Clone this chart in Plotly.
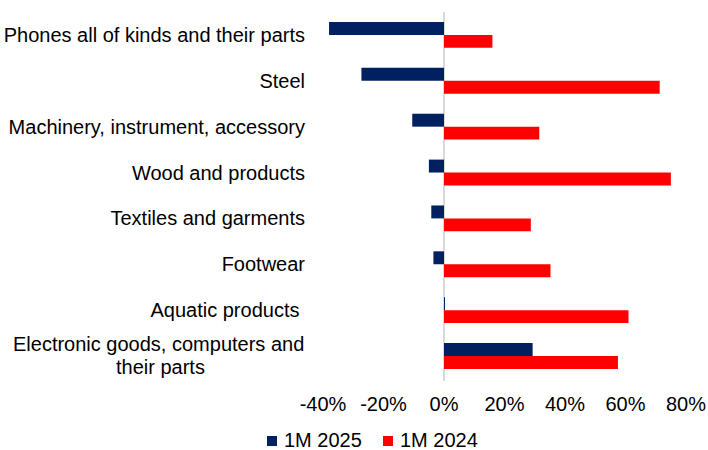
import plotly.graph_objects as go

categories = [
    "Phones all of kinds and their parts",
    "Steel",
    "Machinery, instrument, accessory",
    "Wood and products",
    "Textiles and garments",
    "Footwear",
    "Aquatic products\u00a0",
    "Electronic goods, computers and their parts",
]
tick_labels = [
    "Phones all of kinds and their parts",
    "Steel",
    "Machinery, instrument, accessory",
    "Wood and products",
    "Textiles and garments",
    "Footwear",
    "Aquatic products\u00a0",
    "",
]
wrapped_label_lines = ["Electronic goods, computers and", "their parts"]

series_names = ["1M 2025", "1M 2024"]
series_colors = ["#002060", "#FF0000"]
values_2025 = [-38.0, -27.3, -10.5, -5.0, -4.2, -3.5, 0.3, 29.3]
values_2024 = [16.0, 71.3, 31.5, 75.0, 28.7, 35.2, 61.0, 57.5]

x_ticks = [-40, -20, 0, 20, 40, 60, 80]
x_tick_text = ["-40%", "-20%", "0%", "20%", "40%", "60%", "80%"]

FONT = "Liberation Sans, Arial, sans-serif"
FS = 20
W, H = 708, 450
ML, MR, MT, MB = 323, 22, 12, 69
PW, PH = W - ML - MR, H - MT - MB


def px_x(p):
    return (p - ML) / PW


def px_y(p):
    return (H - MB - p) / PH


fig = go.Figure()
fig.add_trace(go.Bar(y=categories, x=values_2025, orientation="h",
                     name=series_names[0], marker=dict(color=series_colors[0], line=dict(width=0))))
fig.add_trace(go.Bar(y=categories, x=values_2024, orientation="h",
                     name=series_names[1], marker=dict(color=series_colors[1], line=dict(width=0))))

# wrapped, centred category label
fig.add_annotation(text=wrapped_label_lines[0], xref="paper", yref="y", x=0, y=categories[-1],
                   xanchor="right", yanchor="middle", xshift=-17, yshift=12, showarrow=False,
                   font=dict(family=FONT, size=FS, color="#000000"))
fig.add_annotation(text=wrapped_label_lines[1], xref="paper", yref="y", x=0, y=categories[-1],
                   xanchor="center", yanchor="middle", xshift=-163, yshift=-11, showarrow=False,
                   font=dict(family=FONT, size=FS, color="#000000"))

# custom legend (compact square + text)
legend_sq_x = [267, 383]
for i, name in enumerate(series_names):
    x0 = legend_sq_x[i]
    fig.add_shape(type="rect", xref="paper", yref="paper",
                  x0=px_x(x0), x1=px_x(x0 + 10), y0=px_y(446), y1=px_y(436),
                  fillcolor=series_colors[i], line=dict(width=0), layer="above")
    fig.add_annotation(text=name, xref="paper", yref="paper", x=px_x(x0 + 15), y=px_y(440),
                       xanchor="left", yanchor="middle", showarrow=False,
                       font=dict(family=FONT, size=FS, color="#000000"))

fig.update_layout(
    width=W, height=H,
    margin=dict(l=ML, r=MR, t=MT, b=MB, autoexpand=False),
    paper_bgcolor="white", plot_bgcolor="white",
    barmode="group", bargap=0.436, bargroupgap=0,
    font=dict(family=FONT, size=FS, color="#000000"),
    showlegend=False,
    xaxis=dict(range=[-40, 80], tickvals=x_ticks, ticktext=x_tick_text,
               showgrid=False, zeroline=True, zerolinecolor="#d9d9d9", zerolinewidth=1.5,
               showline=False, ticks="", ticklabelstandoff=9,
               tickfont=dict(family=FONT, size=FS, color="#000000"), fixedrange=True),
    yaxis=dict(categoryorder="array", categoryarray=categories, autorange="reversed",
               tickmode="array", tickvals=categories, ticktext=tick_labels,
               showgrid=False, zeroline=False, showline=False, ticks="",
               ticklabelstandoff=17,
               tickfont=dict(family=FONT, size=FS, color="#000000")),
)

fig.write_html("out.html")
